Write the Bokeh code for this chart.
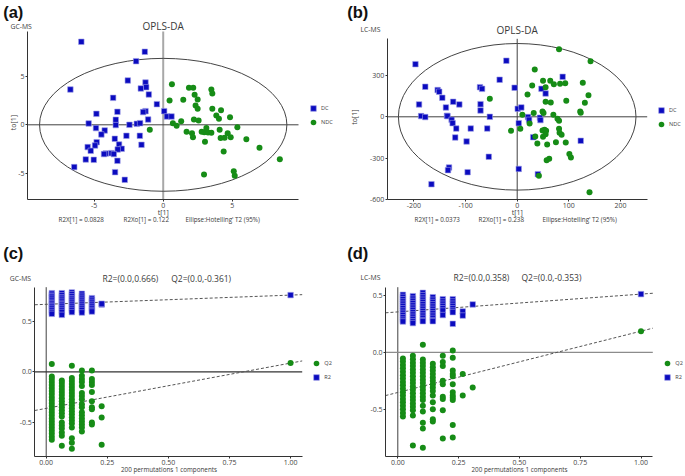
from bokeh.plotting import figure
from bokeh.models import Label, Legend, LegendItem, FixedTicker, Range1d
from bokeh.layouts import column, row
from bokeh.embed import file_html
from bokeh.resources import INLINE

# ---------------- data ----------------
# (a) GC-MS OPLS-DA scores
a_dc_x = [-5.92, -1.33, -1.96, -6.71, -2.56, -1.28, -1.23, -1.62, -1.04, -3.62,
          -0.46, 0.07, 0.27, 0.60, -1.28, -1.45, -3.31, -4.83, -1.09, -3.43,
          -3.43, -5.39, -2.44, -1.91, -1.67, -4.86, -4.23, -4.47, -1.69, -2.66,
          -3.50, -4.81, -3.19, -1.57, -4.93, -5.46, -3.00, -3.29, -5.24, -3.74,
          -4.15, -4.28, -3.57, -5.60, -5.02, -3.31, -6.43, -3.48, -2.78]
a_dc_y = [8.56, 7.53, 6.56, 3.64, 4.57, 4.36, 3.88, 3.75, 3.13, 2.78,
          2.13, 1.41, 0.86, 0.86, 1.41, 1.31, 1.34, 1.13, 0.55, 0.52,
          -0.03, 0.14, 0.00, 0.10, 0.17, -0.34, -0.58, -0.99, -1.13, -1.13,
          -1.44, -1.79, -2.03, -2.06, -2.13, -2.30, -2.47, -2.54, -2.68, -2.92,
          -2.96, -3.02, -3.02, -3.57, -3.61, -3.71, -4.36, -4.88, -5.67]
a_ndc_x = [0.63, 1.86, 2.17, 3.48, 3.55, 2.27, 0.46, 1.45, 2.49, 2.34,
           2.49, 3.55, 4.18, 3.84, 4.03, 4.83, 2.22, 2.56, 1.30, 0.70,
           0.97, -0.97, 5.36, 3.12, 4.08, 1.69, 2.08, 2.78, 2.97, 3.24,
           3.48, 4.66, 2.15, 4.15, 4.44, 4.88, 6.01, 3.02, 6.96, 4.37,
           8.43, 2.95, 5.10, 5.17]
a_ndc_y = [4.19, 3.81, 3.81, 3.64, 3.23, 3.09, 2.51, 2.58, 2.61, 1.99,
           1.65, 1.65, 1.51, 0.96, 0.62, 0.79, 0.55, 0.45, 0.38, 0.17,
           -0.10, -0.52, -0.24, -0.34, -0.52, -0.72, -0.86, -0.72, -0.76, -0.79,
           -0.82, -0.86, -1.27, -1.37, -1.34, -1.27, -1.48, -1.75, -2.37, -2.75,
           -3.54, -5.12, -4.78, -5.26]
a_ellipse = [8.94, 6.85]   # semi-axes (t, to)

# (b) LC-MS OPLS-DA scores
b_dc_x = [-197, -21, -34, -178, -154, -151, -72, -68, -5, -145,
          -124, -190, -112, -71, -138, -71, -186, -178, -136, -135,
          -127, -125, -53, 1, 8, 21, 23, 44, 45, 3,
          -118, -90, -58, -120, -98, 31, 47, 55, 88, 123,
          -55, -132, -134, -96, 3, 40, -166]
b_dc_y = [382, 407, 269, 218, 194, 182, 215, 203, 211, 138,
          109, 90, 90, 92, 68, 46, 5, -2, 7, 5,
          -22, -46, 0, 58, 68, -2, -22, -7, -24, -46,
          -85, -85, -85, -150, -179, -148, 203, 169, 290, -174,
          -290, -368, -387, -402, -378, -416, -489]
b_ndc_x = [81, 142, 34, 50, 64, 29, 71, 83, 93, 127,
           55, 20, 138, -53, 55, 65, 95, 131, 49, 32,
           51, 122, 123, 10, 70, 78, 81, 24, -12, 6,
           81, 53, 56, 49, 82, 86, 35, 50, 55, 39,
           58, 75, 94, 101, 104, 62, 57, 42, 140]
b_ndc_y = [491, 404, 344, 261, 261, 227, 237, 240, 244, 247,
           215, 162, 157, 131, 109, 104, 116, 102, 39, 27,
           27, 39, 29, 15, 15, -15, -29, -48, -102, -87,
           -87, -94, -102, -99, -116, -131, -143, -145, -126, -194,
           -201, -184, -186, -269, -295, -305, -315, -428, -547]
b_ellipse = [230, 532]

# (c) GC-MS permutation test
c_r2_cols = [0.023, 0.064, 0.105, 0.146, 0.187, 0.227]
c_r2_vals = [
    [0.776, 0.76, 0.745, 0.73, 0.71, 0.69, 0.675, 0.66, 0.645, 0.63, 0.61, 0.59, 0.572],
    [0.776, 0.755, 0.735, 0.72, 0.70, 0.68, 0.665, 0.65, 0.63, 0.61, 0.59, 0.562],
    [0.783, 0.765, 0.745, 0.725, 0.71, 0.69, 0.67, 0.65, 0.63, 0.61, 0.589],
    [0.77, 0.75, 0.73, 0.71, 0.69, 0.67, 0.65, 0.63, 0.61, 0.586],
    [0.727, 0.71, 0.69, 0.67, 0.65, 0.63, 0.61, 0.595],
    [0.664, 0.672],
]
c_q2_cols = [0.023, 0.064, 0.105, 0.146, 0.187, 0.227]
c_q2_vals = [
    [0.076, -0.046, -0.07, -0.10, -0.13, -0.16, -0.19, -0.22, -0.25, -0.28, -0.31, -0.34,
     -0.37, -0.40, -0.43, -0.46, -0.49, -0.52, -0.55, -0.58, -0.61, -0.64, -0.67],
    [-0.086, -0.11, -0.14, -0.17, -0.20, -0.23, -0.26, -0.29, -0.32, -0.35, -0.38, -0.41,
     -0.44, -0.50, -0.53, -0.56, -0.60, -0.63, -0.73],
    [0.06, -0.06, -0.09, -0.12, -0.15, -0.18, -0.21, -0.24, -0.27, -0.30, -0.33, -0.36,
     -0.39, -0.42, -0.45, -0.48, -0.51, -0.55, -0.655, -0.70, -0.76],
    [0.013, -0.04, -0.07, -0.10, -0.14, -0.21, -0.24, -0.27, -0.32, -0.35, -0.40, -0.43,
     -0.46, -0.49, -0.52, -0.55, -0.59],
    [0.013, -0.07, -0.10, -0.13, -0.20, -0.29, -0.35, -0.37, -0.50, -0.52],
    [-0.34, -0.45, -0.72],
]
c_r2_orig = 0.757
c_q2_orig = 0.086
c_r2_icpt = 0.666
c_q2_icpt = -0.361

# (d) LC-MS permutation test
d_r2_cols = [0.021, 0.062, 0.103, 0.144, 0.185, 0.226, 0.267, 0.308]
d_r2_vals = [
    [0.509, 0.49, 0.47, 0.45, 0.43, 0.41, 0.39, 0.37, 0.35, 0.33, 0.31, 0.29, 0.274],
    [0.497, 0.475, 0.455, 0.435, 0.415, 0.395, 0.375, 0.355, 0.335, 0.315, 0.295, 0.275, 0.259],
    [0.526, 0.505, 0.485, 0.465, 0.445, 0.425, 0.405, 0.385, 0.365, 0.345, 0.325, 0.305, 0.285, 0.276],
    [0.488, 0.465, 0.445, 0.425, 0.405, 0.385, 0.365, 0.345, 0.325, 0.305, 0.285, 0.276],
    [0.47, 0.45, 0.43, 0.41, 0.39, 0.37, 0.33],
    [0.47, 0.45, 0.43, 0.41, 0.39, 0.37, 0.356, 0.253],
    [0.362, 0.326],
    [0.424],
]
d_q2_cols = [0.021, 0.062, 0.103, 0.144, 0.185, 0.226, 0.267, 0.308]
d_q2_vals = [
    [-0.053, -0.08, -0.11, -0.14, -0.17, -0.20, -0.23, -0.26, -0.29, -0.32, -0.35, -0.38,
     -0.41, -0.44, -0.47, -0.50, -0.535, -0.565],
    [-0.03, -0.06, -0.09, -0.12, -0.15, -0.18, -0.21, -0.24, -0.27, -0.30, -0.33, -0.36,
     -0.39, -0.42, -0.45, -0.48, -0.51, -0.556, -0.82],
    [0.068, -0.062, -0.09, -0.12, -0.15, -0.18, -0.21, -0.24, -0.27, -0.30, -0.33, -0.36,
     -0.39, -0.42, -0.47, -0.52, -0.62, -0.67, -0.84],
    [-0.10, -0.13, -0.16, -0.19, -0.22, -0.25, -0.28, -0.31, -0.34, -0.38, -0.44, -0.50, -0.59, -0.61],
    [-0.03, -0.085, -0.12, -0.25, -0.28, -0.39, -0.41, -0.51, -0.76],
    [0.018, -0.047, -0.16, -0.19, -0.21, -0.28, -0.35, -0.38, -0.40, -0.42, -0.64, -0.75],
    [-0.19, -0.38],
    [-0.31],
]
d_r2_orig = 0.515
d_q2_orig = 0.188
d_r2_icpt = 0.358
d_q2_icpt = -0.353

orig_x = 1.0

# ---------------- layout helpers ----------------
BLUE = "#0b0bbf"
BLUE_EDGE = "#9a9ae6"
GREEN = "#168c16"
AX = "#333333"
TXT = "#3a3a3a"
FONT = "Open Sans"


def make(box, fref, xr, yr, xticks, xlabels, yticks, ylabels):
    """Figure whose frame fills the box; axes are fixed at the plot-area edges."""
    fx0, fy0, fx1, fy1 = box
    L, T, R, B = fref
    kx = (R - L) / (xr[1] - xr[0])
    ky = (B - T) / (yr[1] - yr[0])
    x0 = xr[0] - (L - fx0) / kx
    x1 = xr[1] + (fx1 - R) / kx
    y0 = yr[0] - (fy1 - B) / ky
    y1 = yr[1] + (T - fy0) / ky
    p = figure(width=fx1 - fx0, height=fy1 - fy0, min_border=0, title=None,
               x_range=Range1d(x0, x1), y_range=Range1d(y0, y1),
               output_backend="svg", toolbar_location=None)
    p.outline_line_color = None
    p.grid.visible = False
    p.xaxis.fixed_location = yr[0]
    p.xaxis.bounds = (xr[0], xr[1])
    p.yaxis.fixed_location = xr[0]
    p.yaxis.bounds = (yr[0], yr[1])
    for ax, tk, lb in ((p.xaxis[0], xticks, xlabels), (p.yaxis[0], yticks, ylabels)):
        ax.ticker = FixedTicker(ticks=tk)
        ax.major_label_overrides = {t: l for t, l in zip(tk, lb)}
        ax.axis_line_color = AX
        ax.axis_line_width = 1
        ax.major_tick_line_color = AX
        ax.major_tick_out = 2
        ax.major_tick_in = 0
        ax.minor_tick_line_color = None
        ax.major_label_text_font = FONT
        ax.major_label_text_font_size = "7px"
        ax.major_label_text_color = "#444444"
        ax.major_label_standoff = 1
    return p, box


def lab(p, fr, rx, ry, text, size, align="left", baseline="middle", angle=0,
        font=FONT, style="normal", color=TXT):
    fx0, fy0, fx1, fy1 = fr
    p.add_layout(Label(x=rx - fx0, y=fy1 - ry, x_units="screen", y_units="screen",
                       text=text, text_font_size=f"{size}px", text_align=align,
                       text_baseline=baseline, angle=angle, angle_units="deg",
                       text_font=font, text_font_style=style, text_color=color))


def legend(p, fr, items, mx, my):
    fx0, fy0, fx1, fy1 = fr
    gh = 14
    top = my - gh / 2
    bottom = top + 2 * gh - 4
    leg = Legend(items=items, location=(mx - gh / 2 - fx0, fy1 - bottom),
                 orientation="vertical", glyph_width=gh, glyph_height=gh,
                 label_height=gh, label_width=6, spacing=-4, padding=0, margin=0,
                 label_standoff=1, label_text_font_size="5.6px", label_text_font=FONT,
                 label_text_color="#444444", border_line_color=None,
                 background_fill_alpha=0)
    p.add_layout(leg)


def flat(cols, vals):
    xs, ys = [], []
    for c, v in zip(cols, vals):
        xs += [c] * len(v)
        ys += v
    return xs, ys


W, H, XM, YM = 684, 475, 340, 228

# ---------------- (a) ----------------
a_xr, a_yr = (-9.81, 9.78), (-7.70, 9.62)
pa, fa = make((0, 0, XM, YM), (27, 31, 298, 199), a_xr, a_yr,
              [-5, 0, 5], ["-5", "0", "5"], [-5, 0, 5], ["-5", "0", "5"])
pa.line([0, 0], list(a_yr), line_color="#a8a8a8", line_width=2)
pa.line(list(a_xr), [0, 0], line_color="#404040", line_width=1)
pa.ellipse(x=[0], y=[0], width=[2 * a_ellipse[0]], height=[2 * a_ellipse[1]],
           fill_color=None, line_color="#444444", line_width=1)
ra1 = pa.scatter(a_dc_x, a_dc_y, marker="square", size=5.5, fill_color=BLUE,
                 line_color=BLUE_EDGE, line_width=0.6)
ra2 = pa.scatter(a_ndc_x, a_ndc_y, marker="circle", size=6, fill_color=GREEN, line_color=None)
legend(pa, fa, [LegendItem(label="DC", renderers=[ra1]), LegendItem(label="NDC", renderers=[ra2])],
       313, 112.3)
lab(pa, fa, 2.7, 2, "(a)", 16.5, baseline="top", font="Liberation Sans", style="bold", color="#111111")
lab(pa, fa, 10, 26, "GC-MS", 6.8)
lab(pa, fa, 162.7, 25, "OPLS-DA", 10, align="center")
lab(pa, fa, 13, 122, "to[1]", 7, align="center", angle=90)
lab(pa, fa, 162.7, 212, "t[1]", 7, align="center")
lab(pa, fa, 58, 219.3, "R2X[1]  =  0.0828", 6.3)
lab(pa, fa, 123, 219.3, "R2Xo[1]  =  0.122", 6.3)
lab(pa, fa, 185, 219.3, "Ellipse:Hotelling' T2 (95%)", 6.3)

# ---------------- (b) ----------------
b_xr, b_yr = (-251.7, 251.7), (-600, 566)
pb, fb = make((XM, 0, W, YM), (386.7, 38.3, 646.7, 199), b_xr, b_yr,
              [-200, -100, 0, 100, 200], ["-200", "-100", "0", "100", "200"],
              [-600, -300, 0, 300], ["-600", "-300", "0", "300"])
pb.line([0, 0], list(b_yr), line_color="#404040", line_width=1)
pb.line(list(b_xr), [0, 0], line_color="#404040", line_width=1)
pb.ellipse(x=[0], y=[0], width=[2 * b_ellipse[0]], height=[2 * b_ellipse[1]],
           fill_color=None, line_color="#444444", line_width=1)
rb1 = pb.scatter(b_dc_x, b_dc_y, marker="square", size=5.5, fill_color=BLUE,
                 line_color=BLUE_EDGE, line_width=0.6)
rb2 = pb.scatter(b_ndc_x, b_ndc_y, marker="circle", size=6, fill_color=GREEN, line_color=None)
legend(pb, fb, [LegendItem(label="DC", renderers=[rb1]), LegendItem(label="NDC", renderers=[rb2])],
       661, 114.3)
lab(pb, fb, 346.7, 2, "(b)", 16.5, baseline="top", font="Liberation Sans", style="bold", color="#111111")
lab(pb, fb, 360, 29.3, "LC-MS", 6.8)
lab(pb, fb, 516.7, 29, "OPLS-DA", 10, align="center")
lab(pb, fb, 354, 116.7, "to[1]", 7, align="center", angle=90)
lab(pb, fb, 516.7, 212, "t[1]", 7, align="center")
lab(pb, fb, 414, 219.3, "R2X[1]  =  0.0373", 6.3)
lab(pb, fb, 478, 219.3, "R2Xo[1]  =  0.238", 6.3)
lab(pb, fb, 542, 219.3, "Ellipse:Hotelling' T2 (95%)", 6.3)


# ---------------- permutation panels ----------------
def perm(box, fref, xr, yr, yticks, ylabels, r2c, r2v, q2c, q2v, r2o, q2o, r2i, q2i,
         leg_x, leg_y, hzero_color):
    p, fr = make(box, fref, xr, yr, [0, 0.25, 0.5, 0.75, 1.0],
                 ["0.00", "0.25", "0.50", "0.75", "1.00"], yticks, ylabels)
    p.line([0, 0], list(yr), line_color="#404040", line_width=1)
    p.line(list(xr), [0, 0], line_color=hzero_color, line_width=1.2)
    xs = [xr[0], xr[1]]
    p.line(xs, [r2i + (r2o - r2i) * x for x in xs], line_color="#555555", line_width=1,
           line_dash="3 2")
    p.line(xs, [q2i + (q2o - q2i) * x for x in xs], line_color="#555555", line_width=1,
           line_dash="3 2")
    qx, qy = flat(q2c, q2v)
    rq = p.scatter(qx + [orig_x], qy + [q2o], marker="circle", size=6, fill_color=GREEN,
                   line_color=None)
    rx_, ry_ = flat(r2c, r2v)
    rr = p.scatter(rx_ + [orig_x], ry_ + [r2o], marker="square", size=5.5, fill_color=BLUE,
                   line_color=BLUE_EDGE, line_width=0.6)
    legend(p, fr, [LegendItem(label="Q2", renderers=[rq]), LegendItem(label="R2", renderers=[rr])],
           leg_x, leg_y)
    return p, fr


c_xr, c_yr = (-0.0466, 1.0475), (-0.836, 0.835)
pc, fc = perm((0, YM, XM, H), (34.3, 286.7, 301.7, 456), c_xr, c_yr,
              [-0.5, 0, 0.5], ["-0.5", "0.0", "0.5"],
              c_r2_cols, c_r2_vals, c_q2_cols, c_q2_vals, c_r2_orig, c_q2_orig,
              c_r2_icpt, c_q2_icpt, 316.3, 367.3, "#333333")
lab(pc, fc, 2.7, 243, "(c)", 16.5, baseline="top", font="Liberation Sans", style="bold", color="#111111")
lab(pc, fc, 9.3, 277.7, "GC-MS", 6.8)
lab(pc, fc, 102, 277.7, "R2=(0.0,0.666)", 8.5)
lab(pc, fc, 170.7, 277.7, "Q2=(0.0,-0.361)", 8.5)
lab(pc, fc, 168.5, 469.3, "200 permutations 1 components", 6.3, align="center")

d_xr, d_yr = (-0.0506, 1.0485), (-0.918, 0.576)
pd_, fd = perm((XM, YM, W, H), (385, 286.7, 652.3, 456), d_xr, d_yr,
               [-0.5, 0, 0.5], ["-0.5", "0.0", "0.5"],
               d_r2_cols, d_r2_vals, d_q2_cols, d_q2_vals, d_r2_orig, d_q2_orig,
               d_r2_icpt, d_q2_icpt, 667.3, 366.7, "#8c8c8c")
lab(pd_, fd, 346.7, 243, "(d)", 16.5, baseline="top", font="Liberation Sans", style="bold", color="#111111")
lab(pd_, fd, 360, 276.7, "LC-MS", 6.8)
lab(pd_, fd, 453, 277.3, "R2=(0.0,0.358)", 8.5)
lab(pd_, fd, 521, 277.3, "Q2=(0.0,-0.353)", 8.5)
lab(pd_, fd, 519, 469, "200 permutations 1 components", 6.3, align="center")

layout = column(row(pa, pb), row(pc, pd_))
open("out.html", "w").write(file_html(layout, INLINE))
